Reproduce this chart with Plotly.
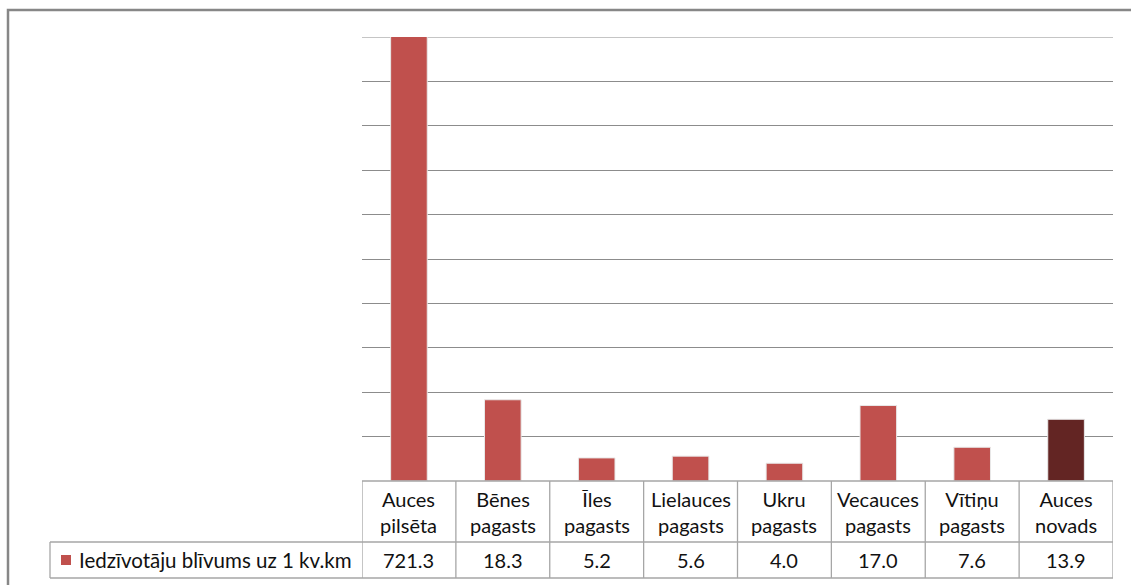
import plotly.graph_objects as go

categories = ["Auces<br>pilsēta", "Bēnes<br>pagasts", "Īles<br>pagasts", "Lielauces<br>pagasts",
              "Ukru<br>pagasts", "Vecauces<br>pagasts", "Vītiņu<br>pagasts", "Auces<br>novads"]
values = [721.3, 18.3, 5.2, 5.6, 4.0, 17.0, 7.6, 13.9]
value_labels = ["721.3", "18.3", "5.2", "5.6", "4.0", "17.0", "7.6", "13.9"]
series_name = "Iedzīvotāju blīvums uz 1 kv.km"
bar_colors = ["#C0504D"] * 7 + ["#632523"]

W, H = 1131, 585
def px(x): return x / W
def py(y): return 1 - y / H

FONT = "Lato, Calibri, sans-serif"
FS = 20
GRID = "#8c8c8c"
TBL = "#a6a6a6"

fig = go.Figure()
fig.add_trace(go.Bar(
    x=list(range(len(categories))), y=values,
    marker=dict(color=bar_colors, line=dict(color="#e8e8e8", width=1)),
    width=0.39, showlegend=False, hoverinfo="skip"))

x0p, x1p = 362, 1113
y_top, y_axis, y_hdr, y_bot = 37, 481, 542, 578
legend_left = 50

shapes = []
# outer frame
shapes.append(dict(type="rect", xref="paper", yref="paper", x0=px(8), x1=px(1140), y0=py(600), y1=py(10),
                   line=dict(color="#878787", width=2.5), layer="below"))
# top gridline (at range max)
shapes.append(dict(type="line", xref="paper", yref="y", x0=px(x0p), x1=px(x1p), y0=100, y1=100,
                   line=dict(color=GRID, width=1), layer="below"))
# table horizontal lines
shapes.append(dict(type="line", xref="paper", yref="paper", x0=px(x0p), x1=px(x1p), y0=py(y_axis), y1=py(y_axis),
                   line=dict(color=TBL, width=1.3)))
for yy in (y_hdr, y_bot):
    shapes.append(dict(type="line", xref="paper", yref="paper", x0=px(legend_left), x1=px(x1p), y0=py(yy), y1=py(yy),
                       line=dict(color=TBL, width=1.3)))
# vertical lines at category boundaries
for i in range(len(categories) + 1):
    shapes.append(dict(type="line", xref="x", yref="paper", x0=i - 0.5, x1=i - 0.5, y0=py(y_bot), y1=py(y_axis),
                       line=dict(color=TBL, width=1.3)))
# legend cell left edge
shapes.append(dict(type="line", xref="paper", yref="paper", x0=px(legend_left), x1=px(legend_left),
                   y0=py(y_bot), y1=py(y_hdr), line=dict(color=TBL, width=1.3)))
# legend key square
shapes.append(dict(type="rect", xref="paper", yref="paper", x0=px(61), x1=px(71), y0=py(565), y1=py(555),
                   fillcolor="#C0504D", line=dict(width=0)))

annotations = []
for i, (c, v) in enumerate(zip(categories, value_labels)):
    annotations.append(dict(x=i, y=py((y_axis + y_hdr) / 2), xref="x", yref="paper", text=c,
                            showarrow=False, font=dict(family=FONT, size=FS, color="#111111"),
                            xanchor="center", yanchor="middle", align="center"))
    annotations.append(dict(x=i, y=py((y_hdr + y_bot) / 2), xref="x", yref="paper", text=v,
                            showarrow=False, font=dict(family=FONT, size=FS, color="#111111"),
                            xanchor="center", yanchor="middle"))
annotations.append(dict(x=px(77), y=py((y_hdr + y_bot) / 2), xref="paper", yref="paper", text=series_name,
                        showarrow=False, font=dict(family=FONT, size=20.5, color="#111111"),
                        xanchor="left", yanchor="middle"))

fig.update_layout(
    width=W, height=H, margin=dict(l=0, r=0, t=0, b=0),
    paper_bgcolor="white", plot_bgcolor="white",
    xaxis=dict(domain=[px(x0p), px(x1p)], range=[-0.5, len(categories) - 0.5],
               showticklabels=False, showgrid=False, zeroline=False, ticks=""),
    yaxis=dict(domain=[py(y_axis), py(y_top)], range=[0, 100], dtick=10,
               showticklabels=False, showgrid=True, gridcolor=GRID, gridwidth=1,
               zeroline=False, ticks=""),
    shapes=shapes, annotations=annotations, bargap=0.6,
)

fig.write_html("out.html", config={"displayModeBar": False},
               post_script="document.body.style.margin='0';document.body.style.overflow='hidden';")
